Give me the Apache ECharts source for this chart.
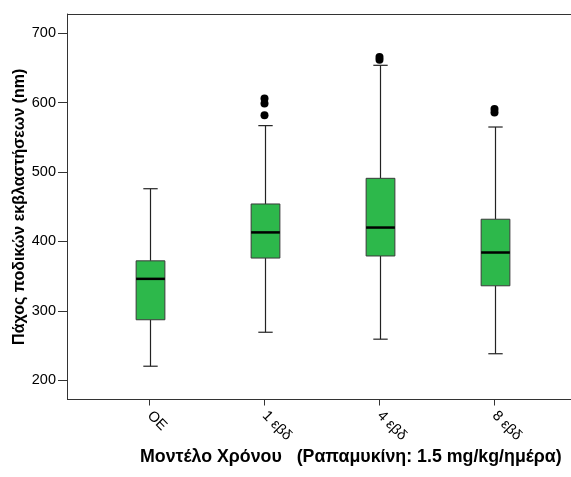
<!DOCTYPE html>
<html>
<head>
<meta charset="utf-8">
<script src="https://cdn.jsdelivr.net/npm/echarts@6/dist/echarts.min.js"></script>
<style>html,body{margin:0;padding:0;background:#fff;}#c{width:571px;height:477px;}</style>
</head>
<body>
<div id="c"></div>
<script>
var categories = ['OE', '1 εβδ', '4 εβδ', '8 εβδ'];
var whiskerLow = [220, 269, 259, 238];
var q1 = [287, 376, 379, 336];
var median = [346, 413, 420, 384];
var q3 = [372, 454, 491, 432];
var whiskerHigh = [476, 567, 654, 565];
var outliers = [
  ['1 εβδ', 582], ['1 εβδ', 599], ['1 εβδ', 606],
  ['4 εβδ', 662], ['4 εβδ', 666],
  ['8 εβδ', 586], ['8 εβδ', 591]
];
var yTicks = [200, 300, 400, 500, 600, 700];

var boxData = categories.map(function (c, i) {
  return [i, whiskerLow[i], q1[i], median[i], q3[i], whiskerHigh[i]];
});

var chart = echarts.init(document.getElementById('c'), null, {renderer: 'canvas'});
var lineCol = '#333333';
var font = 'Liberation Sans, Arial';
chart.setOption({
  animation: false,
  title: {
    text: 'Μοντέλο Χρόνου   (Ραπαμυκίνη: 1.5 mg/kg/ημέρα)',
    left: 140, top: 448, padding: 0,
    textStyle: {fontFamily: font, fontSize: 17.8, fontWeight: 'bold', color: '#000'}
  },
  grid: {left: 92, width: 460, top: 14, height: 385.5, containLabel: false, outerBoundsMode: 'none'},
  xAxis: {
    type: 'category',
    data: categories,
    boundaryGap: true,
    axisLine: {show: false},
    axisTick: {show: true, alignWithLabel: true, length: 6, lineStyle: {color: lineCol}},
    axisLabel: {rotate: -45, margin: 14, fontFamily: font, fontSize: 14.5, color: '#000'},
    splitLine: {show: false}
  },
  yAxis: {
    type: 'value',
    min: 172, max: 728,
    offset: 25,
    name: 'Πάχος ποδικών εκβλαστήσεων (nm)',
    nameLocation: 'middle',
    nameGap: 39,
    nameMoveOverlap: false,
    nameTextStyle: {fontFamily: font, fontSize: 16, fontWeight: 'bold', color: '#000'},
    axisLine: {show: true, lineStyle: {color: lineCol, width: 1}},
    axisTick: {show: true, length: 9, lineStyle: {color: lineCol}, customValues: yTicks},
    axisLabel: {margin: 11, fontFamily: font, fontSize: 14.5, color: '#000', customValues: yTicks},
    splitLine: {show: false}
  },
  graphic: [
    {type: 'line', shape: {x1: 67, y1: 14.5, x2: 571, y2: 14.5}, style: {stroke: lineCol, lineWidth: 1}, z: 10},
    {type: 'line', shape: {x1: 67, y1: 399.5, x2: 571, y2: 399.5}, style: {stroke: lineCol, lineWidth: 1}, z: 10}
  ],
  series: [
    {
      type: 'custom',
      data: boxData,
      encode: {x: 0, y: [1, 2, 3, 4, 5]},
      renderItem: function (params, api) {
        var x = api.value(0);
        var pLo = api.coord([x, api.value(1)]);
        var pQ1 = api.coord([x, api.value(2)]);
        var pMed = api.coord([x, api.value(3)]);
        var pQ3 = api.coord([x, api.value(4)]);
        var pHi = api.coord([x, api.value(5)]);
        var bw = api.size([1, 0])[0] * 0.25;
        var cw = bw / 2;
        var cx = Math.round(pMed[0]) + 0.5;
        var ls = {stroke: '#222', lineWidth: 1.2};
        return {
          type: 'group',
          children: [
            {type: 'line', shape: {x1: cx, y1: pHi[1], x2: cx, y2: pQ3[1]}, style: ls},
            {type: 'line', shape: {x1: cx, y1: pQ1[1], x2: cx, y2: pLo[1]}, style: ls},
            {type: 'line', shape: {x1: cx - cw / 2, y1: pHi[1], x2: cx + cw / 2, y2: pHi[1]}, style: ls},
            {type: 'line', shape: {x1: cx - cw / 2, y1: pLo[1], x2: cx + cw / 2, y2: pLo[1]}, style: ls},
            {type: 'rect', shape: {x: cx - bw / 2, y: pQ3[1], width: bw, height: pQ1[1] - pQ3[1]},
              style: {fill: '#2db84b', stroke: '#3a3a3a', lineWidth: 1}},
            {type: 'line', shape: {x1: cx - bw / 2, y1: pMed[1], x2: cx + bw / 2, y2: pMed[1]},
              style: {stroke: '#000', lineWidth: 2.5}}
          ]
        };
      }
    },
    {
      type: 'scatter',
      data: outliers,
      symbol: 'circle',
      symbolSize: 8,
      itemStyle: {color: '#000', opacity: 1}
    }
  ]
});
</script>
</body>
</html>
